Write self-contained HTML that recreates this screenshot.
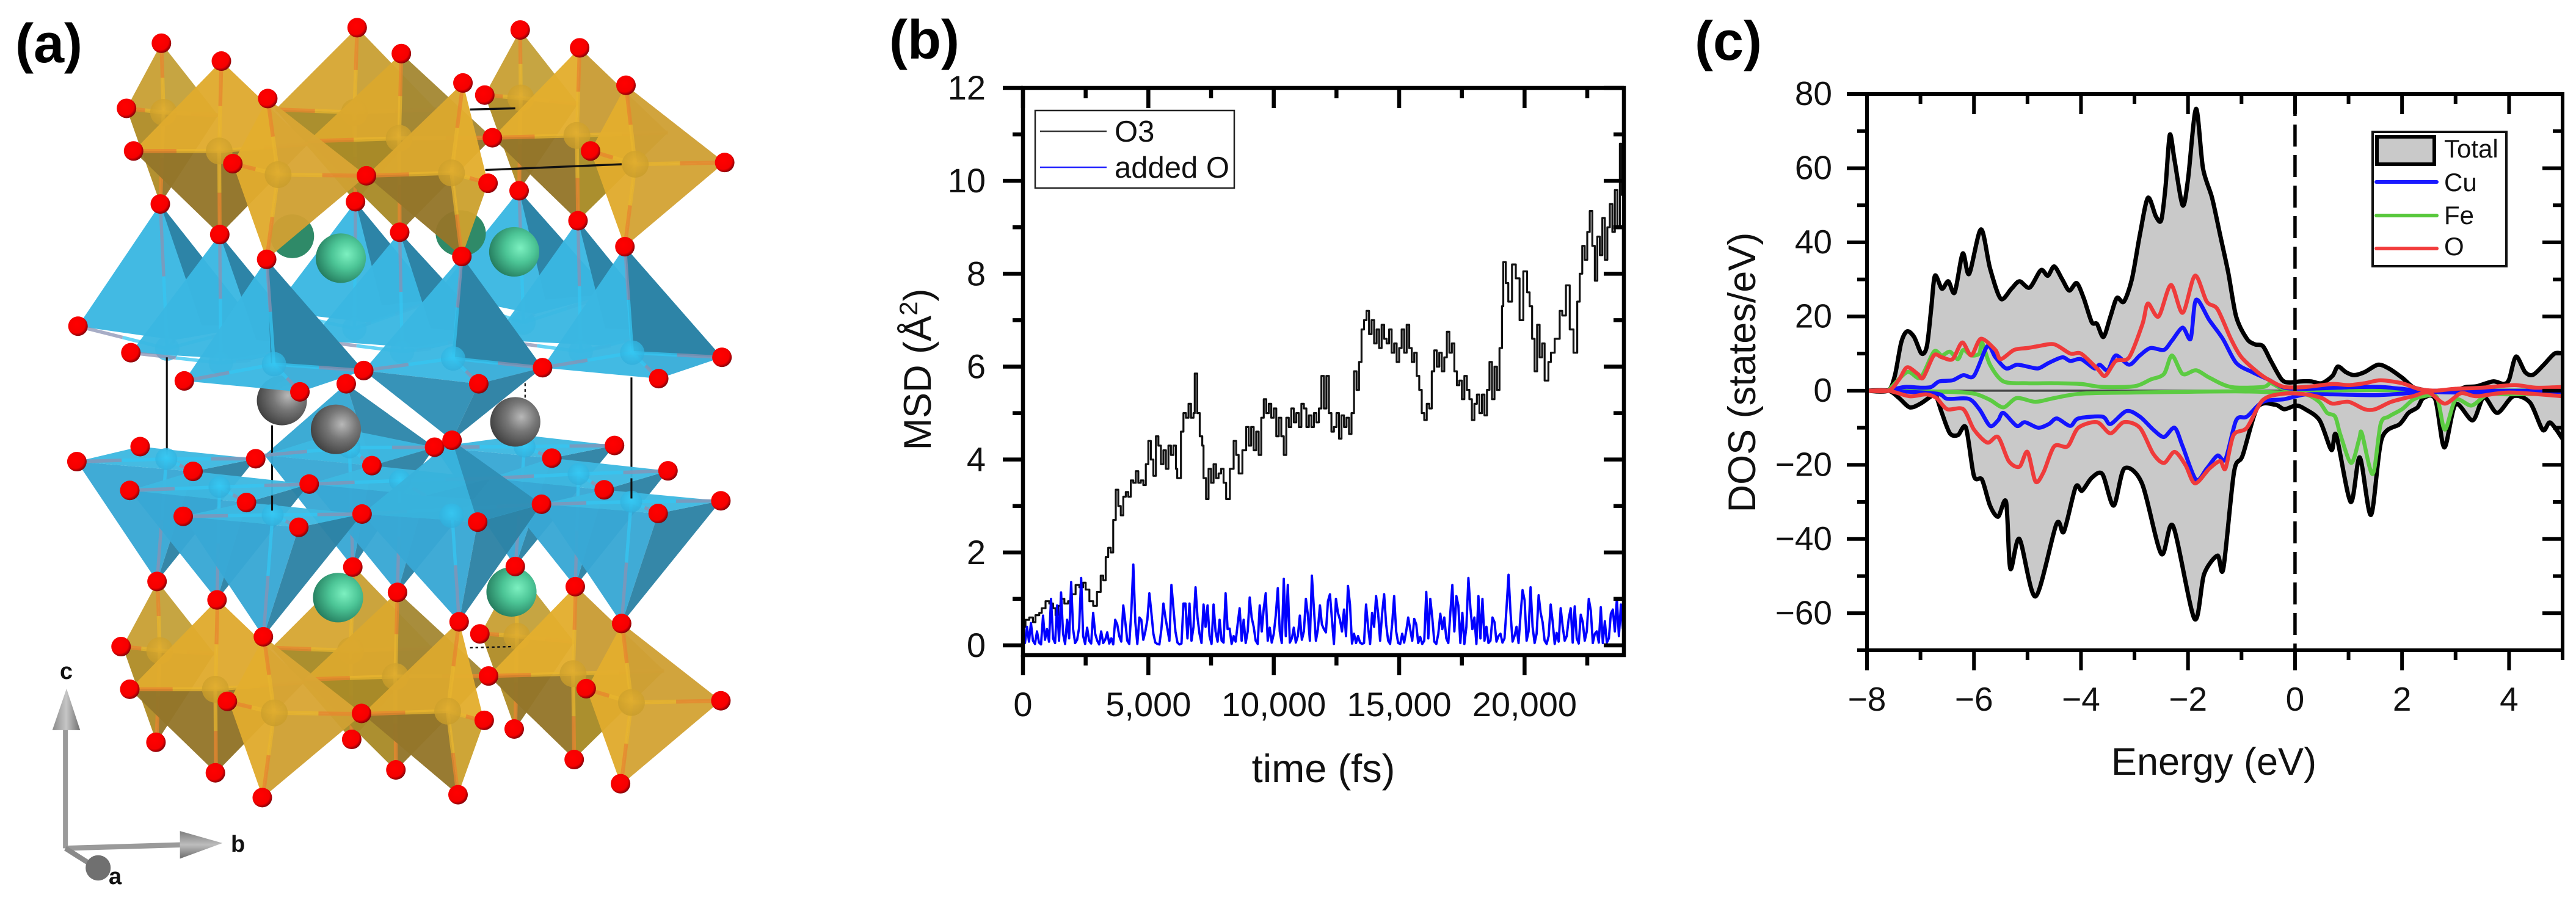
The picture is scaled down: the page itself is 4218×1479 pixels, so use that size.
<!DOCTYPE html>
<html lang="en">
<head>
<meta charset="utf-8">
<title>Crystal structure, MSD and DOS figure</title>
<style>
html,body{margin:0;padding:0;background:#fff}
svg{display:block}
text{font-family:"Liberation Sans",Arial,sans-serif;fill:#111}
.panel-label{font-weight:700;font-size:90px;fill:#000}
.triad-label{font-weight:700;font-size:38px;fill:#111}
</style>
</head>
<body>
<svg id="figure" xmlns="http://www.w3.org/2000/svg" width="4218" height="1479" viewBox="0 0 4218 1479">
  <defs>
    <radialGradient id="red-ball" cx="42%" cy="40%" r="62%"><stop offset="0%" stop-color="#ff0000"/><stop offset="72%" stop-color="#f50000"/><stop offset="100%" stop-color="#7d0008"/></radialGradient>
    <radialGradient id="green-ball" cx="62%" cy="42%" r="66%"><stop offset="0%" stop-color="#7cf0c0"/><stop offset="45%" stop-color="#4cc596"/><stop offset="100%" stop-color="#23795c"/></radialGradient>
    <radialGradient id="gray-ball" cx="62%" cy="40%" r="66%"><stop offset="0%" stop-color="#b8b8b8"/><stop offset="45%" stop-color="#777"/><stop offset="100%" stop-color="#3f3f3f"/></radialGradient>
    <radialGradient id="gold-ball" cx="50%" cy="40%" r="60%"><stop offset="0%" stop-color="#e0ad30"/><stop offset="100%" stop-color="#c89c2a"/></radialGradient>
    <radialGradient id="blue-ball" cx="50%" cy="40%" r="60%"><stop offset="0%" stop-color="#35ccf7"/><stop offset="100%" stop-color="#30aedb"/></radialGradient>
    <linearGradient id="cone-v" x1="0" y1="0" x2="1" y2="0"><stop offset="0%" stop-color="#8b8b8b"/><stop offset="50%" stop-color="#c6c6c6"/><stop offset="100%" stop-color="#707070"/></linearGradient>
    <linearGradient id="cone-h" x1="0" y1="0" x2="0" y2="1"><stop offset="0%" stop-color="#7d7d7d"/><stop offset="50%" stop-color="#bdbdbd"/><stop offset="100%" stop-color="#6c6c6c"/></linearGradient>
    <clipPath id="plot-b-clip"><rect x="1675" y="144" width="984" height="929"/></clipPath>
    <clipPath id="plot-c-clip"><rect x="3057" y="154" width="1139" height="911"/></clipPath>
  </defs>

  <text class="panel-label" x="25" y="102">(a)</text>
  <text class="panel-label" x="1456" y="96">(b)</text>
  <text class="panel-label" x="2775" y="98">(c)</text>

  <g id="panel-a"></g>
  <g id="triad"></g>
  <text class="triad-label" x="98" y="1112">c</text>
  <text class="triad-label" x="378" y="1395">b</text>
  <text class="triad-label" x="178" y="1448">a</text>

  <g id="panel-b"></g>
  <text x="2167" y="1281" font-size="65" text-anchor="middle">time (fs)</text>
  <text transform="translate(1524,605) rotate(-90)" font-size="63" text-anchor="middle">MSD (Å<tspan dy="-22" font-size="42">2</tspan><tspan dy="22">)</tspan></text>
  <g>
    <rect x="1695" y="181" width="326" height="127" fill="#fff" stroke="#222" stroke-width="2.5"/>
    <line x1="1703" y1="215" x2="1812" y2="215" stroke="#333" stroke-width="2.5"/>
    <text x="1825" y="232" font-size="49">O3</text>
    <line x1="1703" y1="274" x2="1812" y2="274" stroke="#2222ff" stroke-width="2.5"/>
    <text x="1825" y="291" font-size="49">added O</text>
  </g>

  <g id="panel-c"></g>
  <text x="3625" y="1269" font-size="63" text-anchor="middle">Energy (eV)</text>
  <text transform="translate(2874,610) rotate(-90)" font-size="63" text-anchor="middle">DOS (states/eV)</text>
  <g>
    <rect x="3885" y="216" width="219" height="220" fill="#fff" stroke="#111" stroke-width="4"/>
    <rect x="3892" y="224" width="94" height="45" fill="#c9c9c9" stroke="#000" stroke-width="6"/>
    <text x="4002" y="258" font-size="42">Total</text>
    <line x1="3891" y1="298" x2="3990" y2="298" stroke="#1a1aff" stroke-width="6" stroke-linecap="round"/>
    <text x="4002" y="313" font-size="42">Cu</text>
    <line x1="3891" y1="353" x2="3990" y2="353" stroke="#58c83c" stroke-width="6" stroke-linecap="round"/>
    <text x="4002" y="367" font-size="42">Fe</text>
    <line x1="3891" y1="407" x2="3990" y2="407" stroke="#f23c3c" stroke-width="6" stroke-linecap="round"/>
    <text x="4002" y="418" font-size="42">O</text>
  </g>
</svg>

<script>
/* ---------- chart (b) data ---------- */
const bXTicks = [0, 5000, 10000, 15000, 20000];
const bXTickLabels = ['0', '5,000', '10,000', '15,000', '20,000'];
const bXMinorTicks = [2500, 7500, 12500, 17500, 22500];
const bYTicks = [0, 2, 4, 6, 8, 10, 12];
const bYTickLabels = ['0', '2', '4', '6', '8', '10', '12'];
const bYMinorTicks = [1, 3, 5, 7, 9, 11];
const o3Time = [0,100,250,400,500,650,750,900,1050,1200,1300,1400,1500,1650,1800,1950,2100,2250,2400,2500,2650,2800,2950,3100,3200,3300,3400,3500,3600,3700,3800,3900,4000,4100,4200,4300,4400,4500,4600,4700,4800,4900,5000,5100,5200,5300,5400,5500,5600,5700,5800,5900,6000,6100,6150,6300,6400,6500,6600,6700,6800,6850,6950,7050,7150,7200,7300,7400,7500,7600,7700,7800,7900,8000,8100,8250,8400,8500,8600,8750,8900,9000,9100,9200,9300,9400,9500,9600,9700,9800,9900,10000,10100,10200,10300,10400,10500,10600,10700,10800,10900,11000,11100,11200,11300,11400,11500,11600,11700,11800,11900,12000,12100,12200,12300,12400,12500,12600,12700,12800,12900,13000,13100,13200,13300,13400,13500,13600,13700,13800,13900,14000,14100,14200,14300,14400,14500,14600,14700,14800,14900,15000,15100,15200,15300,15400,15500,15600,15700,15800,15900,16000,16100,16200,16300,16400,16500,16600,16700,16800,16900,17000,17100,17200,17300,17400,17500,17600,17700,17800,17900,18000,18100,18200,18300,18400,18500,18600,18700,18800,18900,19000,19100,19150,19250,19350,19500,19650,19800,19950,20100,20200,20300,20400,20500,20600,20700,20800,20950,21050,21200,21400,21500,21650,21800,21950,22100,22200,22300,22400,22500,22600,22700,22800,22900,23000,23100,23200,23300,23400,23500,23600,23700,23800,23850,23900,23950];
const o3Msd = [0.4,0.55,0.6,0.5,0.65,0.7,0.8,0.95,0.9,0.8,0.65,0.85,1.0,0.9,0.95,1.1,1.3,1.25,1.35,1.2,0.95,0.85,1.15,1.5,1.4,1.9,2.1,2.0,2.7,3.35,3.0,2.8,3.2,3.3,3.2,3.55,3.5,3.75,3.5,3.55,3.45,3.9,4.4,4.0,3.65,4.5,4.3,3.9,4.2,3.8,4.3,4.1,4.3,3.8,3.6,4.6,5.0,4.9,5.2,4.9,5.0,5.85,5.0,4.5,4.3,3.6,3.15,3.8,3.5,3.9,3.6,3.7,3.8,3.5,3.15,3.8,4.4,4.1,3.7,4.2,4.7,4.3,4.7,4.2,4.6,4.1,4.9,5.3,5.0,5.2,4.9,5.1,4.5,4.9,4.5,4.1,4.9,4.7,5.1,4.8,5.0,4.7,5.2,5.1,4.7,4.95,4.7,5.0,4.8,5.1,5.8,5.1,5.8,5.0,4.6,4.7,5.0,4.45,4.95,4.7,4.9,4.55,5.0,5.9,5.5,6.1,6.8,7.0,7.2,6.7,7.0,6.5,6.8,6.4,6.9,6.6,6.5,6.8,6.3,6.5,6.1,6.4,6.8,6.3,6.9,6.4,6.1,6.3,5.8,5.5,5.0,4.85,5.2,5.1,5.9,6.35,6.0,6.3,5.9,6.2,6.75,6.3,6.5,5.9,5.6,5.7,5.3,5.8,5.5,5.3,4.85,5.2,5.4,5.0,5.4,4.95,5.5,6.1,5.3,6.0,5.5,6.4,7.3,8.25,7.8,7.4,8.2,7.9,7.0,8.05,7.6,7.3,6.6,5.9,6.9,6.2,6.5,5.7,6.1,6.3,6.6,7.2,7.1,7.75,6.8,6.3,7.4,8.0,8.6,8.3,8.9,9.35,8.6,7.85,8.8,8.4,9.2,8.3,9.0,9.5,8.9,9.8,9.0,10.8,9.7,10.7,11.2];
const addedOTimeStep = 80;
const addedOMsd = [
.30,.05,.40,.08,.48,.10,.03,.30,.06,.02,.64,.12,.35,.08,1.0,.15,.05,.86,.10,1.14,.25,.03,.55,.15,1.36,
.35,.05,.12,.38,1.45,.20,.03,.38,.10,.04,.70,.25,.10,.02,.30,.05,.12,.28,.04,.15,.02,.55,.45,.20,.08,
.86,.50,.10,.03,.72,1.74,.50,.03,.60,.55,.12,.30,.55,1.12,.70,.25,.06,.03,.02,.35,.90,.60,.35,.10,1.3,
.80,.30,.06,.02,.04,.90,.90,.15,.90,.10,.40,1.25,.60,.25,.05,.88,.40,.86,.20,.03,.88,.30,.08,.55,.10,
.06,1.12,.35,.36,.03,.20,.08,.45,.80,.10,.55,.05,.30,1.03,.60,.40,.10,.03,.86,.30,.80,1.12,.10,.38,.06,
.25,.65,1.23,.30,.05,1.43,.20,1.30,.06,.15,.38,.06,.20,.64,.12,.30,1.0,.66,.10,1.5,.80,.10,.35,.86,.45,
.35,.28,.95,1.1,.55,.03,1.0,.70,.55,.30,.77,.20,1.28,.88,.04,.25,.05,.20,.06,.03,.05,.88,.40,.03,.70,
.40,1.06,.70,.10,.68,1.10,.45,.10,.03,.45,1.06,.30,.05,.03,.25,.06,.30,.6,.35,.10,.57,.45,.05,.18,.03,
.10,1.15,.15,1.0,.60,.08,.03,.25,.68,.35,.60,.15,.05,.70,1.30,.30,1.06,.86,.05,.70,.03,.40,1.45,.80,.35,
.60,.03,1.06,.15,1.0,.10,.40,.05,.10,.60,.50,.08,.20,.25,.06,.15,.80,1.52,.70,.08,.20,.40,.05,.66,1.19,
.97,.10,.30,1.25,.40,.05,.25,1.08,.70,.50,.10,.03,.20,.88,.50,.03,.27,.08,.80,.40,.10,.20,.57,.80,.06,
.84,.15,.04,.66,.50,.10,.30,1.0,.75,.05,.25,.30,.06,.82,.05,.52,.06,.15,.68,.77,.30,1.0,.20,.88,.35];

/* ---------- chart (c) data ---------- */
const cXTicks = [-8, -6, -4, -2, 0, 2, 4];
const cXTickLabels = ['−8', '−6', '−4', '−2', '0', '2', '4'];
const cXMinorTicks = [-7, -5, -3, -1, 1, 3, 5];
const cYTicks = [-60, -40, -20, 0, 20, 40, 60, 80];
const cYTickLabels = ['−60', '−40', '−20', '0', '20', '40', '60', '80'];
const cYMinorTicks = [-70, -50, -30, -10, 10, 30, 50, 70];
const totalUpEnergy = [-8,-7.61,-7.48,-7.36,-7.25,-7.12,-6.98,-6.88,-6.8,-6.73,-6.6,-6.48,-6.36,-6.21,-6.09,-5.87,-5.7,-5.5,-5.3,-5.15,-4.96,-4.75,-4.62,-4.5,-4.35,-4.22,-4.08,-3.95,-3.8,-3.7,-3.58,-3.45,-3.33,-3.2,-3.05,-2.9,-2.75,-2.6,-2.5,-2.42,-2.34,-2.25,-2.1,-2,-1.85,-1.72,-1.55,-1.4,-1.25,-1.1,-0.9,-0.75,-0.6,-0.45,-0.25,-0.1,0.1,0.3,0.5,0.7,0.8,0.95,1.1,1.3,1.55,1.75,2,2.2,2.4,2.6,3,3.2,3.4,3.7,3.9,4.0,4.13,4.3,4.45,4.65,4.85,5];
const totalUpDos = [0,0,4,13,16,14.5,10,12,22,31,27.5,29.5,26.5,37,31.5,43.5,33,24.8,27.5,29.5,27.8,32.5,31,33.5,30,27,29,25,18.5,18,14.5,20,25,24,30,42,52,47,46,55,69,62,50,57,76,60,52,42,32,20,14,12.5,12,8,3,2.2,2.5,2.5,2,4,6.5,5,4.2,5,7,6,3.5,1,0.2,-0.1,0.2,1,1.2,2.5,1.8,3,9.2,5,4.3,7,10,10];
const totalDownEnergy = [-8,-7.6,-7.4,-7.2,-7,-6.8,-6.72,-6.6,-6.45,-6.3,-6.15,-6,-5.85,-5.7,-5.55,-5.4,-5.32,-5.15,-4.85,-4.46,-4.32,-4.1,-3.98,-3.8,-3.6,-3.39,-3.19,-2.86,-2.5,-2.28,-1.88,-1.7,-1.45,-1.34,-1.14,-0.98,-0.7,-0.37,-0.2,0.02,0.19,0.46,0.68,0.77,1.04,1.21,1.42,1.62,1.96,2.12,2.29,2.4,2.62,2.79,3.0,3.32,3.53,3.78,4.08,4.39,4.63,4.77,5];
const totalDownDos = [0,0,-2,-4.5,-3.5,-1.5,-1,-6,-11.5,-12,-10,-23,-24,-31,-34,-30,-48,-40,-55.5,-36,-38,-26,-27,-23.5,-22.5,-31,-21,-25,-44,-36.5,-61.5,-49.5,-44.5,-48,-22,-17.5,-4.5,-3.8,-5,-4,-5,-8,-16,-12,-30,-18,-33.5,-13,-9,-6,-4.5,-2,-2.3,-15.3,-3.7,-8,-1.8,-6,-1.5,-3.2,-10.6,-8.6,-13];
const oUpEnergy = [-8,-7.6,-7.4,-7.25,-7.05,-6.95,-6.75,-6.6,-6.4,-6.22,-6.05,-5.87,-5.6,-5.5,-5.25,-5,-4.8,-4.5,-4.2,-4,-3.7,-3.55,-3.35,-3.1,-2.85,-2.75,-2.55,-2.32,-2.1,-1.87,-1.65,-1.45,-1.2,-1,-0.7,-0.5,-0.2,0.2,0.7,1,1.3,1.6,2,2.3,2.6,3,3.5,4.1,4.5,5];
const oUpDos = [0,0,3,6.3,4.5,3.5,9.5,9,8.5,13,9.5,14,11,8.5,11,11.5,12,12.5,10,10,6,4,8,9,18,23.5,20,28.5,21,31,24,22,14,9,5,3,1,1,1.8,1.5,2,2.8,2,0.5,0,0.5,0.8,1.5,0.8,1];
const oDownEnergy = [-8,-7.6,-7.2,-6.9,-6.7,-6.5,-6.2,-6,-5.75,-5.55,-5.35,-5.15,-5,-4.85,-4.7,-4.5,-4.25,-4.05,-3.7,-3.45,-3.2,-2.9,-2.65,-2.45,-2.25,-2.05,-1.87,-1.6,-1.4,-1.3,-1.15,-0.9,-0.6,-0.2,0.2,0.5,0.7,1,1.3,1.5,1.8,2.2,2.5,2.8,3.1,3.4,4,5];
const oDownDos = [0,0,-1.5,-1,-2,-5,-5,-10.5,-14,-12.5,-19,-20.5,-16.5,-24.5,-22,-15,-15,-10,-8.5,-11.5,-8.5,-10,-17,-19.5,-16.5,-20,-25,-21,-19,-21,-12,-10,-2.5,-0.8,-1,-2,-3.5,-3,-5,-5,-3,-1.5,-0.5,-3.5,-0.7,-1.5,-0.5,-1.5];
const cuUpEnergy = [-7.6,-7.3,-7,-6.8,-6.65,-6.4,-6.2,-6,-5.75,-5.6,-5.4,-5.2,-5,-4.8,-4.6,-4.35,-4.2,-4,-3.75,-3.65,-3.5,-3.35,-3.1,-2.9,-2.7,-2.45,-2.3,-2.1,-1.95,-1.85,-1.6,-1.35,-1.1,-0.8,-0.5,-0.2,0.2,0.8,1.2,1.6,2,2.5,5];
const cuUpDos = [0,1,0.8,1,2.5,2.8,4.2,4,12,9,6,7,6.5,6,7.5,9,8,8.5,6,7,5.5,9.5,7,9.5,11.5,11,13.5,17,14,24.5,19,14,7.5,5,3,0.8,0.5,0.8,1,1,0.5,0,0];
const cuDownEnergy = [-7.6,-6.7,-6.5,-6.1,-5.9,-5.7,-5.55,-5.45,-5.2,-5.05,-4.8,-4.6,-4.45,-4.2,-4.05,-3.6,-3.45,-3.15,-2.9,-2.65,-2.45,-2.25,-2.1,-1.85,-1.65,-1.45,-1.3,-1.1,-0.9,-0.6,-0.2,0.2,0.7,1.5,2,2.5,3,5];
const cuDownDos = [0,-0.8,-2.2,-2.2,-5,-9.5,-8,-6,-9.5,-8.5,-10,-9,-7.5,-9.5,-7.5,-7,-9,-5.5,-7,-10.5,-12.5,-10,-15,-24,-21,-17.5,-18.5,-8,-7,-3,-2.3,-1,-1,-1.2,-0.8,-0.3,-0.5,-0.3];
const feUpEnergy = [-7.6,-7.25,-7,-6.75,-6.6,-6.45,-6.3,-6.2,-6.05,-5.9,-5.85,-5.7,-5.45,-5,-4.5,-4,-3.6,-3,-2.7,-2.45,-2.3,-2.1,-1.85,-1.6,-1.2,-0.6,-0.45,-0.2,0.5,1.5,2.5,5];
const feUpDos = [0,5,3.5,10.5,9.5,10.5,8.5,11,9.5,10,13,7,2.5,2,2,1.8,1,1.2,3,4.5,9.5,4.5,5.5,3.5,1,1,2,0.5,0.1,0.2,0,0.1];
const feDownEnergy = [-7.6,-6.5,-6,-5.7,-5.45,-5.2,-4.85,-4.5,-4,-3,-2,-1,-0.3,0.2,0.45,0.6,0.75,0.85,1.05,1.2,1.25,1.45,1.6,1.75,2,2.2,2.4,2.65,2.8,3,3.3,3.6,4,5];
const feDownDos = [0,-0.3,-0.8,-2.5,-4.5,-2,-3,-2,-0.8,-0.5,-0.3,-0.2,-0.5,-1,-3,-6,-7,-12,-19.5,-13,-11.5,-22.5,-9,-7,-5,-2.5,-1.5,-1.8,-10.5,-2.5,-4,-1,-1,-0.8];

/* ---------- helpers ---------- */
const SVGNS = 'http://www.w3.org/2000/svg';
function make(parent, tag, attrs) {
  const node = document.createElementNS(SVGNS, tag);
  for (const key in attrs) node.setAttribute(key, attrs[key]);
  parent.appendChild(node);
  return node;
}
function linearScale(d0, d1, r0, r1) {
  return v => r0 + (v - d0) * (r1 - r0) / (d1 - d0);
}
function smoothD(xs, ys) {
  let d = 'M' + xs[0].toFixed(1) + ' ' + ys[0].toFixed(1);
  for (let i = 0; i < xs.length - 1; i++) {
    const x0 = xs[Math.max(i - 1, 0)], y0 = ys[Math.max(i - 1, 0)];
    const x3 = xs[Math.min(i + 2, xs.length - 1)], y3 = ys[Math.min(i + 2, xs.length - 1)];
    const c1x = xs[i] + (xs[i + 1] - x0) / 7, c1y = ys[i] + (ys[i + 1] - y0) / 7;
    const c2x = xs[i + 1] - (x3 - xs[i]) / 7, c2y = ys[i + 1] - (y3 - ys[i]) / 7;
    d += 'C' + c1x.toFixed(1) + ' ' + c1y.toFixed(1) + ' ' + c2x.toFixed(1) + ' ' + c2y.toFixed(1) + ' ' + xs[i + 1].toFixed(1) + ' ' + ys[i + 1].toFixed(1);
  }
  return d;
}
function polyD(xs, ys) {
  return xs.map((x, i) => (i ? 'L' : 'M') + x.toFixed(1) + ' ' + ys[i].toFixed(1)).join('');
}
function stepD(xs, ys) {
  let d = 'M' + xs[0].toFixed(1) + ' ' + ys[0].toFixed(1);
  for (let i = 1; i < xs.length; i++) {
    d += 'L' + xs[i].toFixed(1) + ' ' + ys[i - 1].toFixed(1) + 'L' + xs[i].toFixed(1) + ' ' + ys[i].toFixed(1);
  }
  return d;
}
function drawTicks(g, xScale, yScale, box, xMajor, xMinor, yMajor, yMinor, majorLen, minorLen, width, fontSize, xLabels, yLabels, xBase, yRight, yShift, prefix) {
  const frame = make(g, 'rect', {x: box.l, y: box.t, width: box.r - box.l, height: box.b - box.t, fill: 'none', stroke: '#000', 'stroke-width': width});
  
  
  const groups = [[xMajor, majorLen], [xMinor, minorLen]];
  groups.forEach(pair => pair[0].forEach(v => {
    const x = xScale(v);
    const bottomTick = make(g, 'line', {x1: x, y1: box.b, x2: x, y2: box.b + pair[1], stroke: '#000', 'stroke-width': width});
    
    
    const topTick = make(g, 'line', {x1: x, y1: box.t, x2: x, y2: box.t + pair[1], stroke: '#000', 'stroke-width': width});
    
    
  }));
  const yGroups = [[yMajor, majorLen], [yMinor, minorLen]];
  yGroups.forEach(pair => pair[0].forEach(v => {
    const y = yScale(v);
    const leftTick = make(g, 'line', {x1: box.l - pair[1], y1: y, x2: box.l, y2: y, stroke: '#000', 'stroke-width': width});
    
    
    const rightTick = make(g, 'line', {x1: box.r - pair[1], y1: y, x2: box.r, y2: y, stroke: '#000', 'stroke-width': width});
    
    
  }));
  xMajor.forEach((v, i) => {
    const label = make(g, 'text', {x: xScale(v), y: xBase, 'font-size': fontSize, 'text-anchor': 'middle'});
    label.textContent = xLabels[i];
    
    
  });
  yMajor.forEach((v, i) => {
    const label = make(g, 'text', {x: yRight, y: yScale(v) + yShift, 'font-size': fontSize, 'text-anchor': 'end'});
    label.textContent = yLabels[i];
    
    
  });
}

/* ---------- chart (b) ---------- */
(function () {
  const g = document.getElementById('panel-b');
  const box = {l: 1675, r: 2659, t: 144, b: 1073};
  const x = linearScale(0, 23960, box.l, box.r);
  const y = linearScale(-0.21, 12, box.b, box.t);
  const clip = make(g, 'g', {'clip-path': 'url(#plot-b-clip)'});
  const blackLine = make(clip, 'path', {d: stepD(o3Time.map(x), o3Msd.map(y)), fill: 'none', stroke: '#111', 'stroke-width': 3.2, 'stroke-linejoin': 'round'});
  
  
  const blueLine = make(clip, 'path', {d: polyD(addedOMsd.map((v, i) => x(i * addedOTimeStep)), addedOMsd.map(y)), fill: 'none', stroke: '#0000ff', 'stroke-width': 3.8, 'stroke-linejoin': 'round'});
  
  
  drawTicks(g, x, y, box, bXTicks, bXMinorTicks, bYTicks, bYMinorTicks, 33, 17, 6.5, 56, bXTickLabels, bYTickLabels, 1173, 1614, 19, 'msd');
})();

/* ---------- chart (c) ---------- */
(function () {
  const g = document.getElementById('panel-c');
  const box = {l: 3057, r: 4196, t: 154, b: 1065};
  const x = linearScale(-8, 5, box.l, box.r);
  const y = linearScale(-70, 80, box.b, box.t);
  const clip = make(g, 'g', {'clip-path': 'url(#plot-c-clip)'});
  const y0 = y(0);
  const upD = smoothD(totalUpEnergy.map(x), totalUpDos.map(y));
  const downD = smoothD(totalDownEnergy.map(x), totalDownDos.map(y));
  const fillUp = make(clip, 'path', {d: upD + 'L' + x(5) + ' ' + y0 + 'L' + x(-8) + ' ' + y0 + 'Z', fill: '#c9c9c9'});
  
  
  const fillDown = make(clip, 'path', {d: downD + 'L' + x(5) + ' ' + y0 + 'L' + x(-8) + ' ' + y0 + 'Z', fill: '#c9c9c9'});
  
  
  const totalUp = make(clip, 'path', {d: upD, fill: 'none', stroke: '#000', 'stroke-width': 7, 'stroke-linejoin': 'round'});
  
  
  const totalDown = make(clip, 'path', {d: downD, fill: 'none', stroke: '#000', 'stroke-width': 7, 'stroke-linejoin': 'round'});
  
  
  const zeroLine = make(clip, 'line', {x1: x(-7.6), y1: y0, x2: x(5), y2: y0, stroke: '#444', 'stroke-width': 3.5});
  
  
  const feUp = make(clip, 'path', {d: smoothD(feUpEnergy.map(x), feUpDos.map(y)), fill: 'none', stroke: '#5ccb42', 'stroke-width': 6.5});
  
  
  const feDown = make(clip, 'path', {d: smoothD(feDownEnergy.map(x), feDownDos.map(y)), fill: 'none', stroke: '#5ccb42', 'stroke-width': 6.5});
  
  
  const cuUp = make(clip, 'path', {d: smoothD(cuUpEnergy.map(x), cuUpDos.map(y)), fill: 'none', stroke: '#1414ff', 'stroke-width': 6.5});
  
  
  const cuDown = make(clip, 'path', {d: smoothD(cuDownEnergy.map(x), cuDownDos.map(y)), fill: 'none', stroke: '#1414ff', 'stroke-width': 6.5});
  
  
  const oUp = make(clip, 'path', {d: smoothD(oUpEnergy.map(x), oUpDos.map(y)), fill: 'none', stroke: '#ef3b3b', 'stroke-width': 6.5});
  
  
  const oDown = make(clip, 'path', {d: smoothD(oDownEnergy.map(x), oDownDos.map(y)), fill: 'none', stroke: '#ef3b3b', 'stroke-width': 6.5});
  
  
  const fermi = make(g, 'line', {x1: x(0), y1: box.t, x2: x(0), y2: box.b, stroke: '#000', 'stroke-width': 5.5, 'stroke-dasharray': '36 14'});
  
  
  drawTicks(g, x, y, box, cXTicks, cXMinorTicks, cYTicks, cYMinorTicks, 33, 16, 6, 55, cXTickLabels, cYTickLabels, 1164, 3000, 18, 'dos');
})();

/* ---------- panel (a): crystal structure ---------- */
const goldOctahedra = [
  {t:[296,75],l:[232,188],r:[400,200],b:[294,354],c:[300,195],col:['#c9a035','#c4a13a','#b08c28','#93752a']},
  {t:[655,48],l:[505,190],r:[800,190],b:[652,350],c:[650,195],col:['#d6a733','#c9a035','#a88a25','#93752a']},
  {t:[954,52],l:[889,165],r:[1060,180],b:[952,331],c:[955,170],col:['#c9a035','#c4a13a','#b08c28','#93752a']},
  {t:[406,106],l:[245,262],r:[565,250],b:[403,407],c:[402,262],col:['#e0ab2e','#dfaa30','#94762a','#917326']},
  {t:[736,93],l:[565,245],r:[903,239],b:[733,403],c:[732,240],col:['#dba82e','#a48834','#a98a28','#93752a']},
  {t:[1063,83],l:[903,239],r:[1225,230],b:[1060,383],c:[1058,235],col:['#e3ae2e','#c99c35','#94762a','#a88a25']},
  {t:[491,171],l:[427,284],r:[672,305],b:[489,450],c:[510,303],col:['#e3ae2e','#d8a634','#e0ab2e','#cfa033']},
  {t:[849,144],l:[672,305],r:[895,318],b:[847,445],c:[828,300],col:['#dba82e','#e3ae2e','#94762a','#cca12f']},
  {t:[1148,148],l:[1083,262],r:[1329,282],b:[1146,428],c:[1165,285],col:['#e3ae2e','#cfa035','#e0ab2e','#d3a335']}
];
const goldLayerShift = [-7, 934];
const bluePyramidsUp = [
  {a:[294,354],l:[143,566],r:[470,565],f:[320,590],c:[370,565]},
  {a:[652,350],l:[500,540],r:[800,520],f:[680,560],c:[700,530]},
  {a:[952,331],l:[800,510],r:[1120,510],f:[980,545],c:[1000,520]},
  {a:[403,407],l:[240,612],r:[570,600],f:[460,625],c:[470,590]},
  {a:[733,403],l:[570,590],r:[905,580],f:[790,605],c:[790,570]},
  {a:[1060,383],l:[905,590],r:[1225,575],f:[1120,600],c:[1110,570]}
];
const bluePyramidsUpFront = [
  {a:[489,450],l:[338,661],r:[667,643],f:[550,680],c:[497,632]},
  {a:[847,445],l:[667,643],r:[995,638],f:[878,666],c:[828,622]},
  {a:[1146,428],l:[995,638],r:[1324,620],f:[1208,657],c:[1158,612]}
];
const bluePyramidsDown = [
  {a:[288,1009],l:[141,801],r:[469,796],f:[354,818],k:[257,775]},
  {a:[647,984],l:[485,790],r:[797,776],f:[682,808],k:[635,745]},
  {a:[945,983],l:[797,776],r:[1127,773],f:[1012,795],k:[960,755]},
  {a:[398,1041],l:[238,851],r:[567,840],f:[452,872],k:[354,818]},
  {a:[729,1028],l:[567,840],r:[900,830],f:[780,860],k:[682,808]},
  {a:[1055,1018],l:[897,830],r:[1225,817],f:[1108,850],k:[1012,795]},
  {a:[483,1105],l:[336,896],r:[664,892],f:[548,915],k:[452,872]},
  {a:[842,1079],l:[664,892],r:[993,875],f:[876,906],k:[780,860]},
  {a:[1140,1082],l:[993,875],r:[1322,869],f:[1207,891],k:[1108,850]}
];
const oxygenAtoms = [
  [296,75],[406,106],[655,48],[736,93],[954,52],[1063,83],[491,171],[849,144],[1148,148],[232,188],[889,165],[245,262],[427,284],[672,305],[903,239],[1083,262],[895,318],[1329,282],
  [294,354],[403,407],[652,350],[733,403],[952,331],[1060,383],[489,450],[847,445],[1146,428],
  [143,566],[240,612],[338,661],[550,680],[667,643],[878,666],[995,638],[1208,657],[1324,620],[635,666],
  [141,801],[257,775],[469,796],[354,818],[238,851],[452,872],[336,896],[548,915],[567,840],[682,808],[797,776],[664,892],[876,906],[993,875],[1012,795],[1127,773],[1225,817],[1108,850],[1207,891],[1322,869],[829,764],
  [288,1009],[398,1041],[483,1105],[647,984],[729,1028],[842,1079],[945,983],[1055,1018],[1140,1082],
  [222,1122],[880,1100],[238,1196],[417,1217],[663,1238],[896,1173],[1075,1195],[888,1250],[1322,1216],[286,1288],[395,1341],[645,1283],[726,1336],[943,1265],[1053,1318],[481,1384],[840,1379],[1138,1360]
];

(function () {
  const panel = document.getElementById('panel-a');
  const world = make(panel, 'g', {transform: 'scale(0.892857,0.943878)'});
  function pts(list) { return list.map(p => p.join(',')).join(' '); }
  function shift(p, s) { return [p[0] + s[0], p[1] + s[1]]; }
  function poly(parent, list, fill, op) {
    return make(parent, 'polygon', {points: pts(list), fill: fill, opacity: op === undefined ? 0.96 : op});
  }
  function bond(parent, from, to, inner, outer, w) {
    const mid = [(from[0] + to[0]) / 2, (from[1] + to[1]) / 2];
    make(parent, 'line', {x1: from[0], y1: from[1], x2: mid[0], y2: mid[1], stroke: inner, 'stroke-width': w, opacity: 0.75});
    make(parent, 'line', {x1: mid[0], y1: mid[1], x2: to[0], y2: to[1], stroke: outer, 'stroke-width': w, opacity: 0.75});
  }
  function ball(parent, c, r, fill, op) {
    return make(parent, 'ellipse', {cx: c[0], cy: c[1], rx: r * 1.12, ry: r * 1.06, fill: fill, opacity: op === undefined ? 1 : op});
  }
  function drawOcta(o, s, index, layer) {
    const g = make(world, 'g', {});
    
    
    const t = shift(o.t, s), l = shift(o.l, s), r = shift(o.r, s), b = shift(o.b, s), c = shift(o.c, s);
    poly(g, [t, l, c], o.col[0]);
    poly(g, [t, r, c], o.col[1]);
    poly(g, [l, b, c], o.col[2]);
    poly(g, [r, b, c], o.col[3]);
    [t, l, r, b].forEach(p => bond(g, c, p, '#e8b52e', '#e8862e', 7));
    ball(g, c, 22, 'url(#gold-ball)', 0.8);
  }
  function drawUp(p, index, layer) {
    const g = make(world, 'g', {});
    
    
    poly(g, [p.a, p.l, p.f, p.r], '#3ab7e2');
    poly(g, [p.a, p.r, p.c], '#2d82a4');
    poly(g, [p.c, p.r, p.f], '#3fb0da');
    const core = [(p.l[0] + p.r[0]) / 2, p.c[1] + (layer === 'upper-front' ? 0 : 40)];
    [p.a, p.l, p.r, p.f].forEach(q => bond(g, core, q, '#35c6f2', '#8a92b4', 6));
    ball(g, core, 20, 'url(#blue-ball)', 0.75);
  }
  function drawDown(p, index) {
    const g = make(world, 'g', {});
    
    
    poly(g, [p.l, p.f, p.a], '#38a8d4');
    poly(g, [p.f, p.r, p.a], '#2d82a4');
    poly(g, [p.l, p.k, p.r, p.f], '#3db8e1');
    const c = [(p.l[0] + p.r[0]) / 2, (p.f[1] + p.k[1]) / 2];
    [p.a, p.l, p.r, p.f].forEach(q => bond(g, c, q, '#35c6f2', '#8a92b4', 6));
    ball(g, c, 18, 'url(#blue-ball)', 0.75);
  }
  function sphere(c, rx, ry, fill, name) {
    const e = make(world, 'ellipse', {cx: c[0], cy: c[1], rx: rx, ry: ry, fill: fill});
    
    
  }
  function cellLine(a, b, dash, name) {
    const ln = make(world, 'line', {x1: a[0], y1: a[1], x2: b[0], y2: b[1], stroke: '#111', 'stroke-width': dash ? 2.5 : 3.5});
    if (dash) ln.setAttribute('stroke-dasharray', '5 5');
    
    
  }

  goldOctahedra.forEach((o, i) => drawOcta(o, goldLayerShift, i, 'bottom'));
  cellLine([862, 1124], [940, 1122], true, 'unit-cell-edge-dashed');
  cellLine([963, 665], [963, 690], true, 'unit-cell-edge-dashed');
  bluePyramidsUp.forEach((p, i) => drawUp(p, i, 'upper-back'));
  goldOctahedra.slice(0, 6).forEach((o, i) => drawOcta(o, [0, 0], i, 'top-back'));
  sphere([536, 410], 40, 38, '#2f8a68', 'back-green-atom-left');
  sphere([845, 405], 46, 40, '#2f8a68', 'back-green-atom-right');
  goldOctahedra.slice(6).forEach((o, i) => drawOcta(o, [0, 0], i + 6, 'top-front'));
  cellLine([862, 190], [945, 188], false, 'unit-cell-edge');
  cellLine([890, 295], [1140, 285], false, 'unit-cell-edge');
  sphere([625, 448], 46, 43, 'url(#green-ball)', 'green-atom-upper-left');
  sphere([943, 437], 46, 43, 'url(#green-ball)', 'green-atom-upper-right');
  const upCap = make(world, 'g', {});
  
  
  poly(upCap, [[635, 666], [485, 790], [682, 808]], '#35a8d2');
  poly(upCap, [[635, 666], [682, 808], [797, 776]], '#2d86ab');
  sphere([517, 695], 46, 43, 'url(#gray-ball)', 'gray-atom-back');
  cellLine([306, 620], [306, 790], false, 'unit-cell-edge');
  cellLine([499, 738], [499, 886], false, 'unit-cell-edge');
  cellLine([1158, 655], [1158, 865], false, 'unit-cell-edge');
  bluePyramidsDown.forEach((p, i) => drawDown(p, i));
  cellLine([499, 860], [499, 886], false, 'unit-cell-edge');
  cellLine([1158, 830], [1158, 865], false, 'unit-cell-edge');
  const centerCap = make(world, 'g', {});
  
  
  poly(centerCap, [[829, 764], [664, 892], [876, 906]], '#38b2dc');
  poly(centerCap, [[829, 764], [876, 906], [993, 875]], '#2f8fb5');
  ball(centerCap, [828, 895], 20, 'url(#blue-ball)', 0.75);
  sphere([616, 745], 46, 43, 'url(#gray-ball)', 'gray-atom-left');
  sphere([945, 732], 46, 43, 'url(#gray-ball)', 'gray-atom-right');
  bluePyramidsUpFront.forEach((p, i) => drawUp(p, i, 'upper-front'));
  const belly = make(world, 'g', {});
  
  
  poly(belly, [[667, 643], [878, 666], [829, 764]], '#2f8fb5');
  poly(belly, [[878, 666], [995, 638], [829, 764]], '#2b80a3');
  sphere([620, 1037], 46, 43, 'url(#green-ball)', 'green-atom-lower-left');
  sphere([938, 1027], 46, 43, 'url(#green-ball)', 'green-atom-lower-right');
  oxygenAtoms.forEach(a => {
    const atom = ball(world, a, 16, 'url(#red-ball)');
    
    
  });

  const triad = document.getElementById('triad');
  const t = make(triad, 'g', {transform: 'scale(0.892857,0.943878)'});
  make(t, 'line', {x1: 120, y1: 1472, x2: 120, y2: 1265, stroke: '#9a9a9a', 'stroke-width': 9});
  make(t, 'polygon', {points: '96,1267 147,1267 122,1195', fill: 'url(#cone-v)'});
  make(t, 'line', {x1: 120, y1: 1472, x2: 332, y2: 1466, stroke: '#9a9a9a', 'stroke-width': 9});
  make(t, 'polygon', {points: '330,1442 330,1490 408,1463', fill: 'url(#cone-h)'});
  make(t, 'line', {x1: 120, y1: 1472, x2: 175, y2: 1505, stroke: '#8a8a8a', 'stroke-width': 9});
  make(t, 'ellipse', {cx: 180, cy: 1506, rx: 23, ry: 22, fill: '#707070'});
})();
</script>
</body>
</html>
